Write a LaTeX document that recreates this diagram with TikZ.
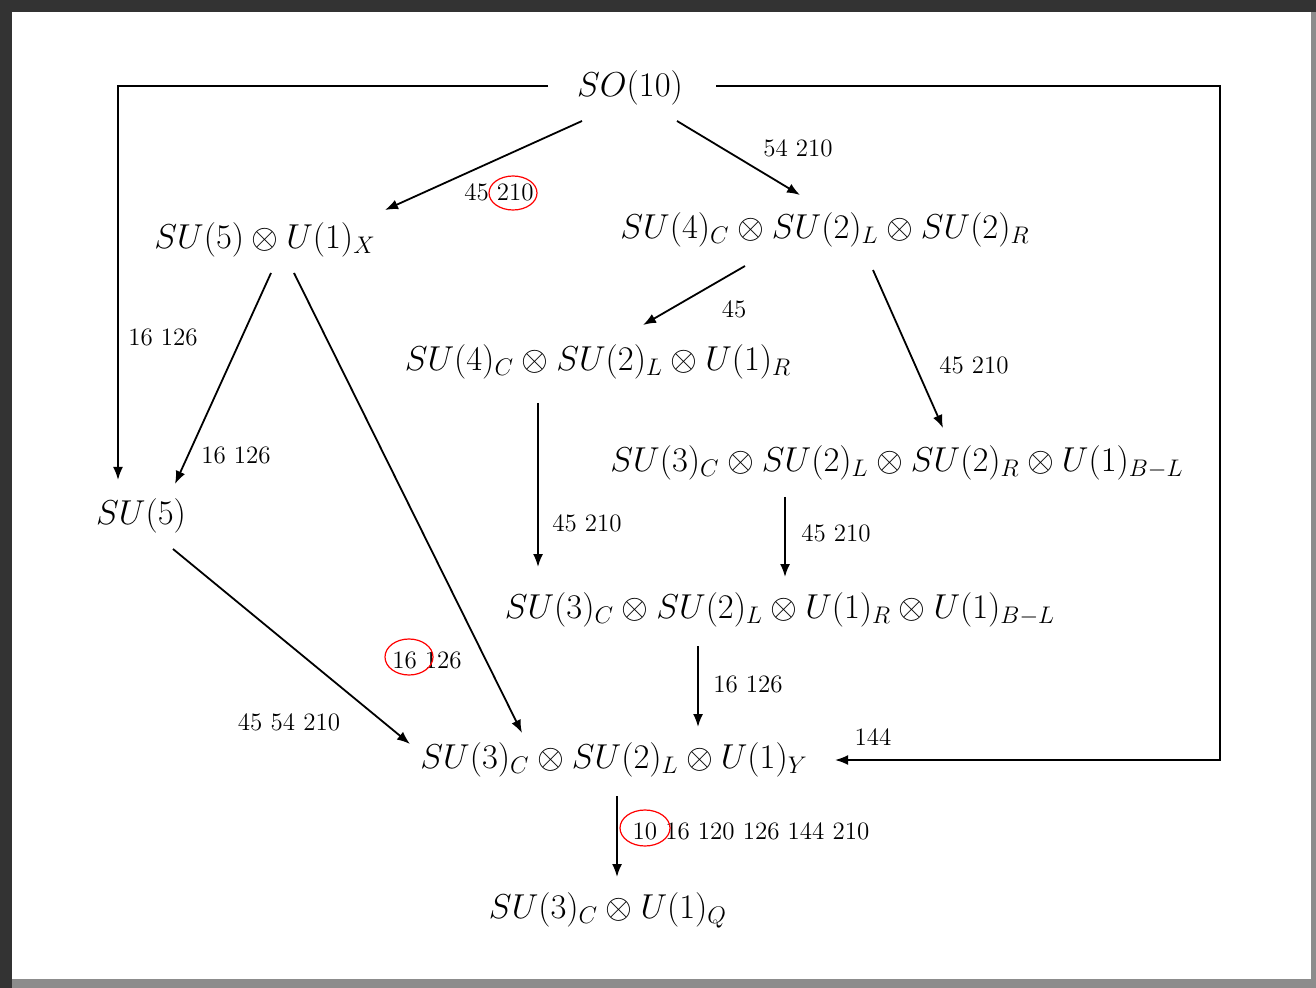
\documentclass[tikz,border=0pt]{standalone}
\usetikzlibrary{arrows.meta,calc}
\begin{document}
\begin{tikzpicture}[x=0.5pt,y=-0.5pt,
  grp/.style={inner sep=0pt,font=\fontsize{16.5}{20}\selectfont},
  lbl/.style={inner sep=0pt,font=\fontsize{12.5}{15}\selectfont},
  arr/.style={line width=0.9pt,-{Latex[length=6.5pt,width=5pt]}},
  redring/.style={draw=red,line width=0.6pt}]
\useasboundingbox (0,0) rectangle (1316,988);
\fill[black!80] (0,0) rectangle (1316,988);
\fill[black!45] (12,12) rectangle (1316,988);
\fill[white] (12,12) rectangle (1311,979);
% groups
\node[grp] (so10) at (630,88) {$SO(10)$};
\node[grp] (su5u1) at (265,240) {$SU(5)\otimes U(1)_X$};
\node[grp] (su422) at (825,230) {$SU(4)_C\otimes SU(2)_L\otimes SU(2)_R$};
\node[grp] (su421) at (598,362) {$SU(4)_C\otimes SU(2)_L\otimes U(1)_R$};
\node[grp] (su3221) at (897,463) {$SU(3)_C\otimes SU(2)_L\otimes SU(2)_R\otimes U(1)_{B-L}$};
\node[grp] (su5) at (141,516) {$SU(5)$};
\node[grp] (su3211) at (780,610) {$SU(3)_C\otimes SU(2)_L\otimes U(1)_R\otimes U(1)_{B-L}$};
\node[grp] (sm) at (614,760) {$SU(3)_C\otimes SU(2)_L\otimes U(1)_Y$};
\node[grp] (q) at (608,910) {$SU(3)_C\otimes U(1)_Q$};
% connectors
\draw[arr] ($(so10)+(-82,-2)$) -| ($(su5)+(-23,-36)$);
\draw[arr] ($(so10)+(86,-2)$) -- ++(504,0) |- ($(sm)+(221,0)$);
\draw[arr] ($(so10)+(-48,33)$) -- ($(su5u1)+(120,-30)$);
\draw[arr] ($(so10)+(47,33)$) -- ($(su422)+(-25,-35)$);
\draw[arr] ($(su5u1)+(6,33)$) -- ($(su5)+(34,-32)$);
\draw[arr] ($(su5u1)+(29,33)$) -- ($(sm)+(-92,-27)$);
\draw[arr] ($(su422)+(-80,36)$) -- ($(su421)+(45,-37)$);
\draw[arr] ($(su422)+(48,40)$) -- ($(su3221)+(46,-35)$);
\draw[arr] ($(su421)+(-60,41)$) -- ($(su3211)+(-242,-43)$);
\draw[arr] ($(su3221)+(-112,34)$) -- ($(su3211)+(5,-33)$);
\draw[arr] ($(su5)+(32,33)$) -- ($(sm)+(-204,-16)$);
\draw[arr] ($(su3211)+(-82,36)$) -- ($(sm)+(84,-33)$);
\draw[arr] ($(sm)+(3,36)$) -- ($(q)+(9,-33)$);
% labels
\node[lbl] (l1) at (499,192) {45 210};
\node[lbl] (l2) at (798,148) {54 210};
\node[lbl] (l3) at (163,337) {16 126};
\node[lbl] (l4) at (236,455) {16 126};
\node[lbl] (l5) at (734,309) {45};
\node[lbl] (l6) at (974,365) {45 210};
\node[lbl] (l7) at (587,523) {45 210};
\node[lbl] (l8) at (836,533) {45 210};
\node[lbl] (l9) at (427,660) {16 126};
\node[lbl] (l10) at (289,722) {45 54 210};
\node[lbl] (l11) at (748,684) {16 126};
\node[lbl] (l12) at (873,737) {144};
\node[lbl] (l13) at (751,831) {10 16 120 126 144 210};
% red marks
\draw[redring] (513,193) ellipse [x radius=24,y radius=17];
\draw[redring] (409,657) ellipse [x radius=24,y radius=18];
\draw[redring] (645,828) ellipse [x radius=25,y radius=18];
\end{tikzpicture}
\end{document}
